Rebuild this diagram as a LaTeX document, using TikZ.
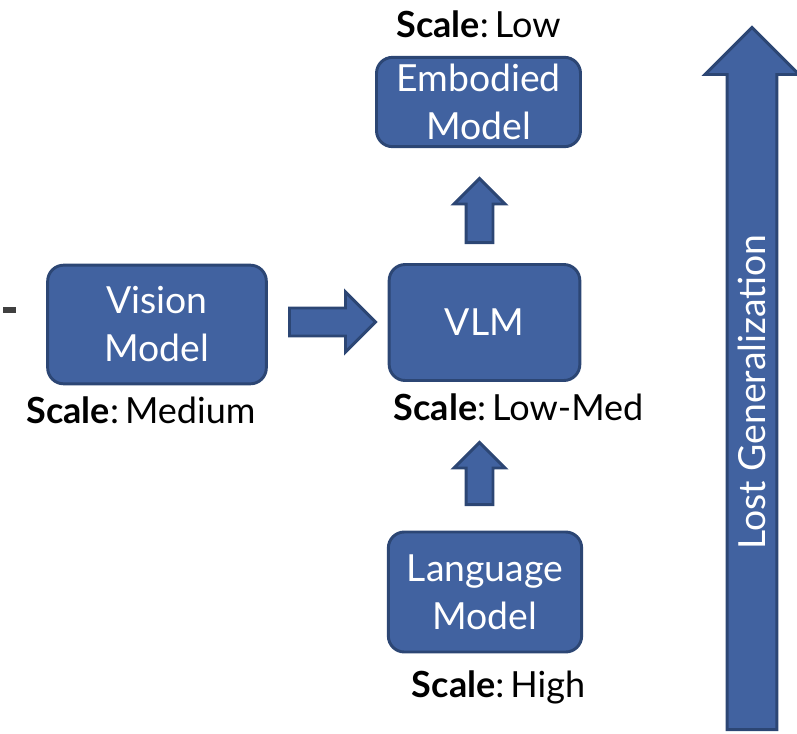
\documentclass[tikz,border=0pt]{standalone}
\usepackage{fontspec}
\setmainfont{Lato}
\usetikzlibrary{shapes.arrows}
\definecolor{boxblue}{RGB}{65,98,160}
\definecolor{boxedge}{RGB}{44,70,116}
\definecolor{dashgray}{RGB}{64,64,64}
\begin{document}
\begin{tikzpicture}[x=0.75pt, y=-0.75pt,
    % model boxes
    block/.style={
        draw=boxedge,
        fill=boxblue,
        line width=2.2pt,
        rounded corners=12pt,
        text=white,
        align=center,
        font=\fontsize{28}{36}\selectfont
    },
    % scale labels under / over the boxes
    scale_lbl/.style={anchor=base, font=\fontsize{27}{32}\selectfont},
    % block arrows
    fat/.style={
        single arrow,
        draw=boxedge,
        fill=boxblue,
        line width=2.2pt,
        inner xsep=0pt,
        anchor=tail,
        single arrow tip angle=90
    }
]
    \useasboundingbox (0,0) rectangle (797,733);

    % ================== boxes ==================
    \node[block, minimum width=153pt, minimum height=67pt] (emb) at (478.5,102) {Embodied\\Model};
    \node[block, minimum width=164pt, minimum height=89pt] (vis) at (157,324.5) {Vision\\Model};
    \node[block, minimum width=143pt, minimum height=87pt] (vlm) at (484.5,322.5) {VLM};
    \node[block, minimum width=145pt, minimum height=90pt] (lang) at (485,592) {Language\\Model};

    % ================== labels ==================
    \node[scale_lbl] (emb_lbl) at (478.5,37) {\textbf{Scale}:\,Low};
    \node[scale_lbl] (vis_lbl) at (141,423) {\textbf{Scale}:\,Medium};
    \node[scale_lbl] (vlm_lbl) at (518.5,420) {\textbf{Scale}:\,Low-Med};
    \node[scale_lbl] (lang_lbl) at (498.5,697) {\textbf{Scale}:\,High};

    % ================== arrows ==================
    \node[fat, minimum height=64.5pt, inner ysep=9.4pt, single arrow head extend=12pt] (arr_vis) at (288,322) {};
    \node[fat, rotate=90, minimum height=48pt, inner ysep=9pt, single arrow head extend=9pt] (arr_vlm) at (479.5,244) {};
    \node[fat, rotate=90, minimum height=46.5pt, inner ysep=9pt, single arrow head extend=9pt] (arr_lang) at (479.5,506) {};

    % big arrow on the right
    \node[fat, rotate=90, minimum height=526.5pt, inner ysep=17.6pt, single arrow head extend=16.5pt] (arr_lost) at (752,731) {};
    \node[rotate=90, text=white, font=\fontsize{28}{34}\selectfont] (lost_lbl) at (752,392) {Lost Generalization};

    % cut-off mark at the left edge
    \fill[dashgray] (3,307) rectangle (16,313);
\end{tikzpicture}
\end{document}
